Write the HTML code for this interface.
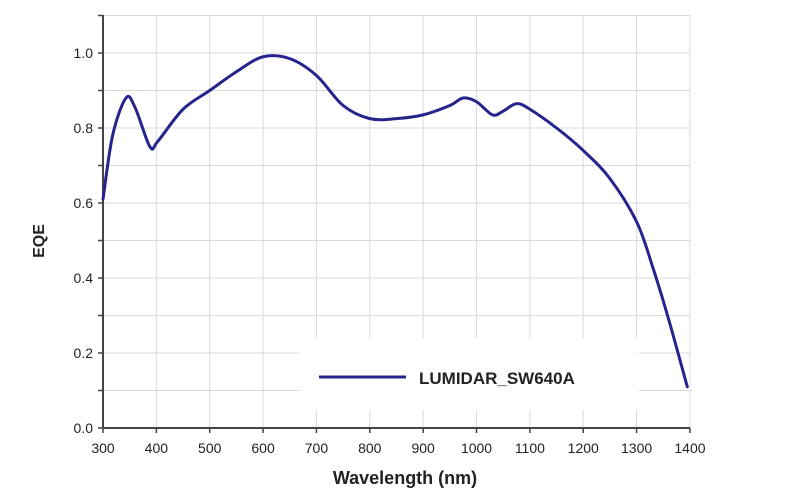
<!DOCTYPE html><html><head><style>body{margin:0;background:#fff}svg{display:block}text{font-family:"Liberation Sans",sans-serif;fill:#222}</style></head><body>
<svg id="s" width="800" height="500" xmlns="http://www.w3.org/2000/svg">
<g id="grid" stroke="#d9d9d9" stroke-width="1"></g>
<rect x="300" y="338" width="339" height="72" fill="#fff"/>
<line x1="103" y1="15" x2="103" y2="428" stroke="#444" stroke-width="2"/>
<line x1="103" y1="428" x2="690" y2="428" stroke="#444" stroke-width="2"/>
<g id="ticks" stroke="#444" stroke-width="1.5"></g>
<g id="lab" font-size="14"></g>
<path id="curve" fill="none" stroke="#26248c" stroke-width="3" stroke-linejoin="round" stroke-linecap="round"/>
<line x1="319" y1="377" x2="406" y2="377" stroke="#26248c" stroke-width="3"/>
<text x="419" y="384" font-size="17" font-weight="bold" fill="#222">LUMIDAR_SW640A</text>
<text x="405" y="484" font-size="18" font-weight="bold" text-anchor="middle">Wavelength (nm)</text>
<text transform="translate(44,241) rotate(-90)" font-size="16" font-weight="bold" text-anchor="middle">EQE</text>
</svg>
<script>
var X=n=>103+(n-300)*0.5336, Y=e=>428-e*375;
var g=document.getElementById('grid'),t=document.getElementById('ticks'),l=document.getElementById('lab'),h='',th='',lh='';
for(var n=400;n<=1400;n+=100){h+='<line x1="'+X(n)+'" y1="15" x2="'+X(n)+'" y2="428"/>';}
for(var i=1;i<=11;i++){h+='<line x1="103" y1="'+Y(i/10)+'" x2="690" y2="'+Y(i/10)+'"/>';}
for(var n=300;n<=1400;n+=100){th+='<line x1="'+X(n)+'" y1="428" x2="'+X(n)+'" y2="433"/>';lh+='<text x="'+X(n)+'" y="453" text-anchor="middle">'+n+'</text>';}
for(var i=0;i<=11;i++){th+='<line x1="98" y1="'+Y(i/10)+'" x2="103" y2="'+Y(i/10)+'"/>';if(i%2==0&&i<=10)lh+='<text x="93" y="'+(Y(i/10)+5)+'" text-anchor="end">'+(i/10).toFixed(1)+'</text>';}
g.innerHTML=h;t.innerHTML=th;l.innerHTML=lh;
var d=[[300,.61],[318,.78],[343,.88],[360,.855],[388,.75],[403,.765],[450,.85],[500,.9],[550,.95],[600,.99],[650,.985],[700,.94],[750,.86],[800,.825],[850,.825],[900,.835],[950,.86],[975,.88],[1000,.87],[1030,.835],[1050,.845],[1075,.865],[1100,.85],[1150,.8],[1200,.74],[1250,.665],[1300,.55],[1330,.43],[1360,.29],[1395,.11]];
var p=d.map(a=>[X(a[0]),Y(a[1])]),s='M'+p[0];
for(var i=0;i<p.length-1;i++){var a=p[Math.max(i-1,0)],b=p[i],c=p[i+1],e=p[Math.min(i+2,p.length-1)];
s+=' C'+(b[0]+(c[0]-a[0])/6)+','+(b[1]+(c[1]-a[1])/6)+' '+(c[0]-(e[0]-b[0])/6)+','+(c[1]-(e[1]-b[1])/6)+' '+c[0]+','+c[1];}
document.getElementById('curve').setAttribute('d',s);
</script></body></html>
